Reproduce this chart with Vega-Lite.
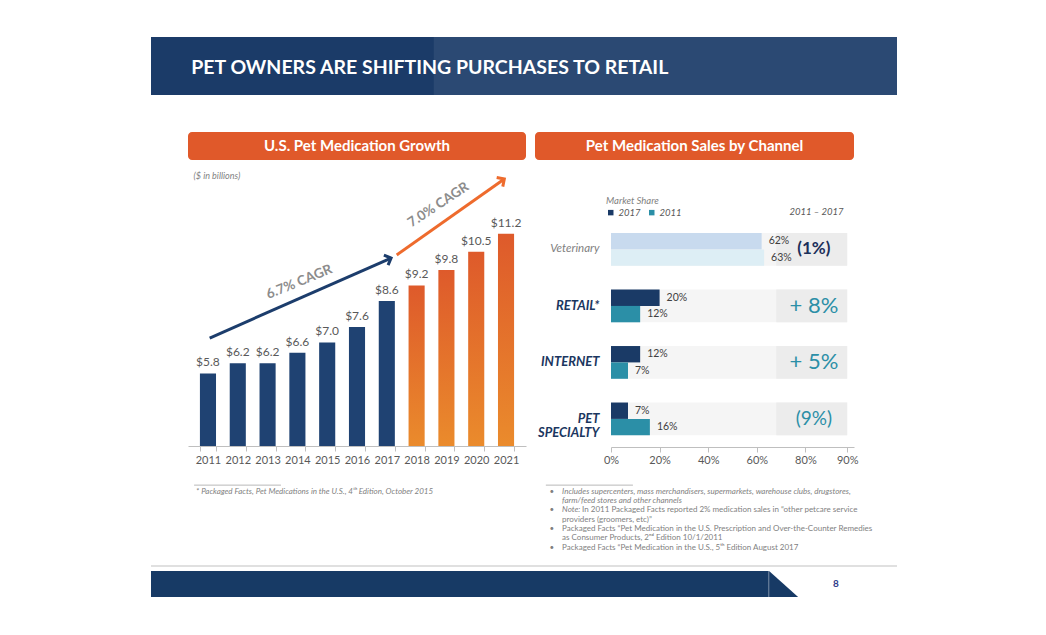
{
  "$schema": "https://vega.github.io/schema/vega-lite/v6.json",
  "padding": {"left": 150, "top": 37, "right": 0, "bottom": 0},
  "autosize": {"type": "pad"},
  "background": "white",
  "config": {"view": {"stroke": null}, "font": "Lato"},
  "datasets": {
    "growth": [
      {"year": 2011, "value": 5.8}, {"year": 2012, "value": 6.2}, {"year": 2013, "value": 6.2},
      {"year": 2014, "value": 6.6}, {"year": 2015, "value": 7.0}, {"year": 2016, "value": 7.6},
      {"year": 2017, "value": 8.6}, {"year": 2018, "value": 9.2}, {"year": 2019, "value": 9.8},
      {"year": 2020, "value": 10.5}, {"year": 2021, "value": 11.2}
    ],
    "cagrArrows": [
      {"arrow": "hist", "point": "start", "x": 2010.77, "y": 7.17},
      {"arrow": "hist", "point": "end", "x": 2017.21, "y": 10.26},
      {"arrow": "fcst", "point": "start", "x": 2017.41, "y": 10.38},
      {"arrow": "fcst", "point": "end", "x": 2021.23, "y": 13.31}
    ],
    "cagrLabels": [
      {"label": "6.7% CAGR", "x": 2013.95, "y": 9.33},
      {"label": "7.0% CAGR", "x": 2018.89, "y": 12.31}
    ],
    "shares": [
      {"channel": "Veterinary", "year": "2017", "share": 0.62},
      {"channel": "Veterinary", "year": "2011", "share": 0.63},
      {"channel": "RETAIL*", "year": "2017", "share": 0.20},
      {"channel": "RETAIL*", "year": "2011", "share": 0.12},
      {"channel": "INTERNET", "year": "2017", "share": 0.12},
      {"channel": "INTERNET", "year": "2011", "share": 0.07},
      {"channel": "PET SPECIALTY", "year": "2017", "share": 0.07},
      {"channel": "PET SPECIALTY", "year": "2011", "share": 0.16}
    ],
    "changes": [
      {"channel": "Veterinary", "change": "(1%)"},
      {"channel": "RETAIL*", "change": "+ 8%"},
      {"channel": "INTERNET", "change": "+ 5%"},
      {"channel": "PET SPECIALTY", "change": "(9%)"}
    ],
    "notes": [
      {"line": 1, "bullet": "•", "text": "Includes supercenters, mass merchandisers, supermarkets, warehouse clubs, drugstores,"},
      {"line": 2, "text": "farm/feed stores and other channels"},
      {"line": 3, "bullet": "•", "lead": "Note:", "text": "In 2011 Packaged Facts reported 2% medication sales in “other petcare service"},
      {"line": 4, "text": "providers (groomers, etc)”"},
      {"line": 5, "bullet": "•", "text": "Packaged Facts “Pet Medication in the U.S. Prescription and Over-the-Counter Remedies"},
      {"line": 6, "text": "as Consumer Products, 2ⁿᵈ Edition 10/1/2011"},
      {"line": 7, "bullet": "•", "text": "Packaged Facts “Pet Medication in the U.S., 5ᵗʰ Edition August 2017"}
    ]
  },
  "spacing": 37,
  "vconcat": [
    {
      "width": 746, "height": 58,
      "view": {"fill": "#1b3b68", "stroke": null},
      "data": {"values": [{"title": "PET OWNERS ARE SHIFTING PURCHASES TO RETAIL"}]},
      "layer": [
        {"mark": {"type": "rect", "color": "#2b4973"},
         "encoding": {
           "x": {"datum": 0.379, "type": "quantitative", "scale": {"domain": [0, 1]}, "axis": null},
           "x2": {"datum": 1},
           "y": {"datum": 0, "type": "quantitative", "scale": {"domain": [0, 1]}, "axis": null},
           "y2": {"datum": 1}}},
        {"mark": {"type": "text", "align": "left", "baseline": "middle", "color": "white", "fontWeight": "bold", "fontSize": 19.5},
         "encoding": {
           "x": {"datum": 0.054, "type": "quantitative"},
           "y": {"datum": 0.47, "type": "quantitative"},
           "text": {"field": "title"}}}
      ]
    },
    {
      "spacing": 8,
      "vconcat": [
        {
          "bounds": "flush",
          "spacing": 9,
          "hconcat": [
            {"width": 28, "height": 1, "data": {"values": [{}]}, "mark": {"type": "point", "opacity": 0, "size": 1}},
            {
              "width": 338, "height": 28,
              "view": {"fill": "#e0592a", "stroke": null, "cornerRadius": 4},
              "data": {"values": [{"title": "U.S. Pet Medication Growth"}]},
              "mark": {"type": "text", "color": "white", "fontWeight": "bold", "fontSize": 15, "baseline": "middle"},
              "encoding": {"text": {"field": "title"}}
            },
            {
              "width": 319, "height": 28,
              "view": {"fill": "#e0592a", "stroke": null, "cornerRadius": 4},
              "data": {"values": [{"title": "Pet Medication Sales by Channel"}]},
              "mark": {"type": "text", "color": "white", "fontWeight": "bold", "fontSize": 15, "baseline": "middle"},
              "encoding": {"text": {"field": "title"}}
            }
          ]
        },
        {
          "bounds": "flush",
          "spacing": 0,
          "resolve": {"scale": {"color": "independent"}, "legend": {"color": "independent"}},
          "hconcat": [
            {"width": 37, "height": 1, "data": {"values": [{}]}, "mark": {"type": "point", "opacity": 0, "size": 1}},
            {
              "width": 338, "height": 278,
              "resolve": {"scale": {"x": "independent"}, "axis": {"x": "independent"}},
              "layer": [
                {
                  "data": {"name": "growth"},
                  "layer": [
                    {"mark": {"type": "bar"},
                     "encoding": {
                       "x": {"field": "year", "type": "ordinal",
                             "scale": {"paddingInner": 0.46, "paddingOuter": 0.4},
                             "axis": {"title": null, "labelAngle": 0, "labelColor": "#595959", "labelFontSize": 11,
                                      "labelPadding": 3, "tickBand": "extent", "tickColor": "#bfbfbf", "tickSize": 5,
                                      "domainColor": "#bfbfbf", "grid": false}},
                       "y": {"field": "value", "type": "quantitative", "scale": {"domain": [3, 13.736]}, "axis": null},
                       "y2": {"datum": 3},
                       "color": {
                         "condition": {"test": "datum.year >= 2018",
                           "value": {"gradient": "linear", "x1": 0, "y1": 0, "x2": 0, "y2": 1,
                             "stops": [{"offset": 0, "color": "#de5a2b"}, {"offset": 1, "color": "#ea8b2c"}]}},
                         "value": "#1f4272"}}},
                    {"mark": {"type": "text", "baseline": "bottom", "dy": -4, "fontSize": 12, "color": "#595959"},
                     "encoding": {
                       "x": {"field": "year", "type": "ordinal"},
                       "y": {"field": "value", "type": "quantitative", "scale": {"domain": [3, 13.736]}, "axis": null},
                       "text": {"field": "value", "format": "$.1f"}}}
                  ]
                },
                {
                  "layer": [
                    {"data": {"name": "cagrArrows"},
                     "mark": {"type": "line", "strokeWidth": 3},
                     "encoding": {
                       "x": {"field": "x", "type": "quantitative", "scale": {"domain": [2010.329, 2021.671]},
                             "axis": {"orient": "top", "title": "($ in billions)", "labels": false, "ticks": false,
                                      "domain": false, "grid": false, "titleX": 5, "titleY": 7, "titleAlign": "left",
                                      "titleBaseline": "middle", "titleFontStyle": "italic", "titleFontWeight": "normal",
                                      "titleFontSize": 9, "titleColor": "#7f7f7f"}},
                       "y": {"field": "y", "type": "quantitative", "scale": {"domain": [3, 13.736]}, "axis": null},
                       "detail": {"field": "arrow"},
                       "color": {"field": "arrow", "type": "nominal",
                                 "scale": {"domain": ["hist", "fcst"], "range": ["#1c3d6c", "#ee6b2d"]}, "legend": null}}},
                    {"data": {"name": "cagrArrows"},
                     "transform": [{"filter": "datum.point === 'end'"}],
                     "mark": {"type": "point", "shape": "M -1 -1 L 0 0 L -1 1", "filled": false, "strokeWidth": 3, "size": 121, "opacity": 1},
                     "encoding": {
                       "x": {"field": "x", "type": "quantitative"},
                       "y": {"field": "y", "type": "quantitative", "scale": {"domain": [3, 13.736]}, "axis": null},
                       "color": {"field": "arrow", "type": "nominal", "legend": null},
                       "angle": {"condition": {"test": "datum.arrow === 'fcst'", "value": 326.3}, "value": 337.6}}},
                    {"data": {"name": "cagrLabels"},
                     "mark": {"type": "text", "fontWeight": "bold", "fontSize": 13.5, "color": "#8c8c8c"},
                     "encoding": {
                       "x": {"field": "x", "type": "quantitative"},
                       "y": {"field": "y", "type": "quantitative", "scale": {"domain": [3, 13.736]}, "axis": null},
                       "text": {"field": "label"},
                       "angle": {"condition": {"test": "datum.label === '7.0% CAGR'", "value": 326.3}, "value": 337.6}}}
                  ]
                }
              ]
            },
            {"width": 85, "height": 1, "data": {"values": [{}]}, "mark": {"type": "point", "opacity": 0, "size": 1}},
            {
              "width": 243, "height": 279,
              "resolve": {"axis": {"x": "independent"}},
              "layer": [
                {"data": {"name": "changes"},
                 "mark": {"type": "bar", "color": "#f5f5f5"},
                 "encoding": {
                   "y": {"field": "channel", "type": "nominal", "sort": ["Veterinary", "RETAIL*", "INTERNET", "PET SPECIALTY"],
                         "scale": {"paddingInner": 0.42, "paddingOuter": 0.679, "align": 0.8475},
                         "axis": {"title": null, "domain": false, "ticks": false, "labelPadding": 12, "labelFontStyle": "italic",
                                  "labelFontWeight": {"condition": {"test": "datum.label === 'Veterinary'", "value": "normal"}, "value": "bold"},
                                  "labelColor": {"condition": {"test": "datum.label === 'Veterinary'", "value": "#808080"}, "value": "#1b3660"},
                                  "labelFontSize": {"condition": {"test": "datum.label === 'Veterinary'", "value": 11.5}, "value": 13},
                                  "labelExpr": "datum.label === 'PET SPECIALTY' ? ['PET', 'SPECIALTY'] : datum.label",
                                  "labelLineHeight": 14, "labelLimit": 0}},
                   "x": {"datum": 0, "type": "quantitative", "scale": {"domain": [0, 0.972]}, "axis": null},
                   "x2": {"datum": 0.972}}},
                {"data": {"name": "changes"},
                 "mark": {"type": "bar", "color": "#ececec"},
                 "encoding": {
                   "y": {"field": "channel", "type": "nominal", "sort": ["Veterinary", "RETAIL*", "INTERNET", "PET SPECIALTY"]},
                   "x": {"datum": 0.68, "type": "quantitative", "axis": null},
                   "x2": {"datum": 0.972}}},
                {"data": {"name": "shares"},
                 "mark": {"type": "bar"},
                 "encoding": {
                   "y": {"field": "channel", "type": "nominal", "sort": ["Veterinary", "RETAIL*", "INTERNET", "PET SPECIALTY"]},
                   "yOffset": {"field": "year", "type": "nominal", "sort": ["2017", "2011"], "scale": {"paddingInner": 0, "paddingOuter": 0}},
                   "x": {"field": "share", "type": "quantitative",
                         "axis": {"title": null, "values": [0, 0.2, 0.4, 0.6, 0.8, 0.972], "format": ".0%",
                                  "labelExpr": "datum.value > 0.9 ? '90%' : datum.label", "grid": false,
                                  "domainColor": "#bfbfbf", "tickColor": "#bfbfbf", "tickSize": 5,
                                  "labelColor": "#595959", "labelFontSize": 11, "labelPadding": 2, "labelFlush": false}},
                   "color": {
                     "field": "year", "type": "nominal",
                     "scale": {"domain": ["2017", "2011"], "range": ["#1a3a66", "#2b8fa7"]},
                     "condition": [
                       {"test": "datum.channel === 'Veterinary' && datum.year === '2017'", "value": "#c8daee"},
                       {"test": "datum.channel === 'Veterinary' && datum.year === '2011'", "value": "#ddeef5"}
                     ],
                     "legend": {"title": "Market Share", "orient": "none", "legendX": -5, "legendY": 28, "direction": "horizontal",
                                "titleFontStyle": "italic", "titleFontWeight": "normal", "titleFontSize": 9.5, "titleColor": "#7f7f7f",
                                "labelFontStyle": "italic", "labelFontSize": 9.5, "labelColor": "#595959",
                                "symbolType": "square", "symbolSize": 30, "symbolStrokeWidth": 0,
                                "columnPadding": 6, "labelOffset": 3, "titlePadding": 2, "values": ["2017", "2011"]}}}},
                {"data": {"name": "shares"},
                 "mark": {"type": "text", "align": "left", "baseline": "middle", "dx": 7, "fontSize": 10.5, "color": "#404040"},
                 "encoding": {
                   "y": {"field": "channel", "type": "nominal", "sort": ["Veterinary", "RETAIL*", "INTERNET", "PET SPECIALTY"]},
                   "yOffset": {"field": "year", "type": "nominal", "sort": ["2017", "2011"]},
                   "x": {"field": "share", "type": "quantitative", "axis": null},
                   "text": {"field": "share", "format": ".0%"}}},
                {"data": {"name": "changes"},
                 "transform": [{"filter": "datum.channel === 'Veterinary'"}],
                 "mark": {"type": "text", "baseline": "middle", "fontWeight": "bold", "fontSize": 17, "color": "#1b2f5a"},
                 "encoding": {
                   "y": {"field": "channel", "type": "nominal", "sort": ["Veterinary", "RETAIL*", "INTERNET", "PET SPECIALTY"]},
                   "x": {"datum": 0.835, "type": "quantitative", "axis": null},
                   "text": {"field": "change"}}},
                {"data": {"name": "changes"},
                 "transform": [{"filter": "datum.channel !== 'Veterinary'"}],
                 "mark": {"type": "text", "baseline": "middle", "color": "#2b8fa7"},
                 "encoding": {
                   "y": {"field": "channel", "type": "nominal", "sort": ["Veterinary", "RETAIL*", "INTERNET", "PET SPECIALTY"]},
                   "x": {"datum": 0.835, "type": "quantitative",
                         "axis": {"orient": "top", "title": "2011 – 2017", "labels": false, "ticks": false, "domain": false, "grid": false,
                                  "titleX": 232, "titleY": 43, "titleAlign": "right", "titleBaseline": "middle",
                                  "titleFontStyle": "italic", "titleFontWeight": "normal", "titleFontSize": 9.5, "titleColor": "#595959"}},
                   "size": {"condition": {"test": "datum.channel === 'PET SPECIALTY'", "value": 19}, "value": 22},
                   "text": {"field": "change"}}}
              ]
            }
          ]
        },
        {
          "bounds": "flush",
          "spacing": 9,
          "hconcat": [
            {"width": 28, "height": 1, "data": {"values": [{}]}, "mark": {"type": "point", "opacity": 0, "size": 1}},
            {
              "width": 338, "height": 84,
              "data": {"values": [{"line": 1, "note": "* Packaged Facts, Pet Medications in the U.S., 4ᵗʰ Edition, October 2015"}]},
              "layer": [
                {"mark": {"type": "rule", "color": "#a6a6a6", "strokeWidth": 0.8},
                 "encoding": {
                   "x": {"datum": 0.018, "type": "quantitative", "scale": {"domain": [0, 1]}, "axis": null},
                   "x2": {"datum": 0.275},
                   "y": {"datum": 0.3, "type": "quantitative", "scale": {"domain": [-0.592, 7.692], "reverse": true}, "axis": null}}},
                {"mark": {"type": "text", "align": "left", "baseline": "middle", "fontStyle": "italic", "fontSize": 8, "color": "#7f7f7f"},
                 "encoding": {
                   "x": {"datum": 0.024, "type": "quantitative"},
                   "y": {"field": "line", "type": "quantitative"},
                   "text": {"field": "note"}}}
              ]
            },
            {
              "width": 319, "height": 84,
              "data": {"name": "notes"},
              "layer": [
                {"transform": [{"filter": "datum.line === 1"}],
                 "mark": {"type": "rule", "color": "#a6a6a6", "strokeWidth": 0.8},
                 "encoding": {
                   "x": {"datum": 0.034, "type": "quantitative", "scale": {"domain": [0, 1]}, "axis": null},
                   "x2": {"datum": 0.307},
                   "y": {"datum": 0.3, "type": "quantitative", "scale": {"domain": [-0.592, 7.692], "reverse": true}, "axis": null}}},
                {"transform": [{"filter": "datum.bullet"}],
                 "mark": {"type": "text", "align": "center", "baseline": "middle", "fontSize": 8, "color": "#7f7f7f"},
                 "encoding": {"x": {"datum": 0.053, "type": "quantitative"}, "y": {"field": "line", "type": "quantitative"}, "text": {"field": "bullet"}}},
                {"transform": [{"filter": "datum.line <= 2"}],
                 "mark": {"type": "text", "align": "left", "baseline": "middle", "fontStyle": "italic", "fontSize": 8, "color": "#7f7f7f"},
                 "encoding": {"x": {"datum": 0.085, "type": "quantitative"}, "y": {"field": "line", "type": "quantitative"}, "text": {"field": "text"}}},
                {"transform": [{"filter": "datum.lead"}],
                 "mark": {"type": "text", "align": "left", "baseline": "middle", "fontStyle": "italic", "fontSize": 8, "color": "#7f7f7f"},
                 "encoding": {"x": {"datum": 0.085, "type": "quantitative"}, "y": {"field": "line", "type": "quantitative"}, "text": {"field": "lead"}}},
                {"transform": [{"filter": "datum.line === 3"}],
                 "mark": {"type": "text", "align": "left", "baseline": "middle", "dx": 20, "fontSize": 8, "color": "#7f7f7f"},
                 "encoding": {"x": {"datum": 0.085, "type": "quantitative"}, "y": {"field": "line", "type": "quantitative"}, "text": {"field": "text"}}},
                {"transform": [{"filter": "datum.line >= 4"}],
                 "mark": {"type": "text", "align": "left", "baseline": "middle", "fontSize": 8, "color": "#7f7f7f"},
                 "encoding": {"x": {"datum": 0.085, "type": "quantitative"}, "y": {"field": "line", "type": "quantitative"}, "text": {"field": "text"}}}
              ]
            }
          ]
        },
        {
          "width": 746, "height": 32,
          "data": {"values": [{"page": "8"}]},
          "layer": [
            {"mark": {"type": "rule", "color": "#d6d6d6", "strokeWidth": 1.5},
             "encoding": {
               "x": {"datum": 0, "type": "quantitative", "scale": {"domain": [0, 1]}, "axis": null},
               "x2": {"datum": 1},
               "y": {"datum": 0.969, "type": "quantitative", "scale": {"domain": [0, 1]}, "axis": null}}},
            {"mark": {"type": "rect", "color": "#173a65"},
             "encoding": {
               "x": {"datum": 0, "type": "quantitative"}, "x2": {"datum": 0.828},
               "y": {"datum": 0, "type": "quantitative"}, "y2": {"datum": 0.8125}}},
            {"mark": {"type": "point", "shape": "M -1 -0.9 L -1 0.9 L 1 0.9 Z", "size": 841, "filled": true, "color": "#173a65", "opacity": 1, "strokeWidth": 0},
             "encoding": {"x": {"datum": 0.848, "type": "quantitative"}, "y": {"datum": 0.406, "type": "quantitative"}}},
            {"mark": {"type": "text", "color": "#2f3b8a", "fontSize": 10, "fontWeight": "bold", "baseline": "middle"},
             "encoding": {"x": {"datum": 0.918, "type": "quantitative"}, "y": {"datum": 0.406, "type": "quantitative"}, "text": {"field": "page"}}}
          ]
        }
      ]
    }
  ]
}
